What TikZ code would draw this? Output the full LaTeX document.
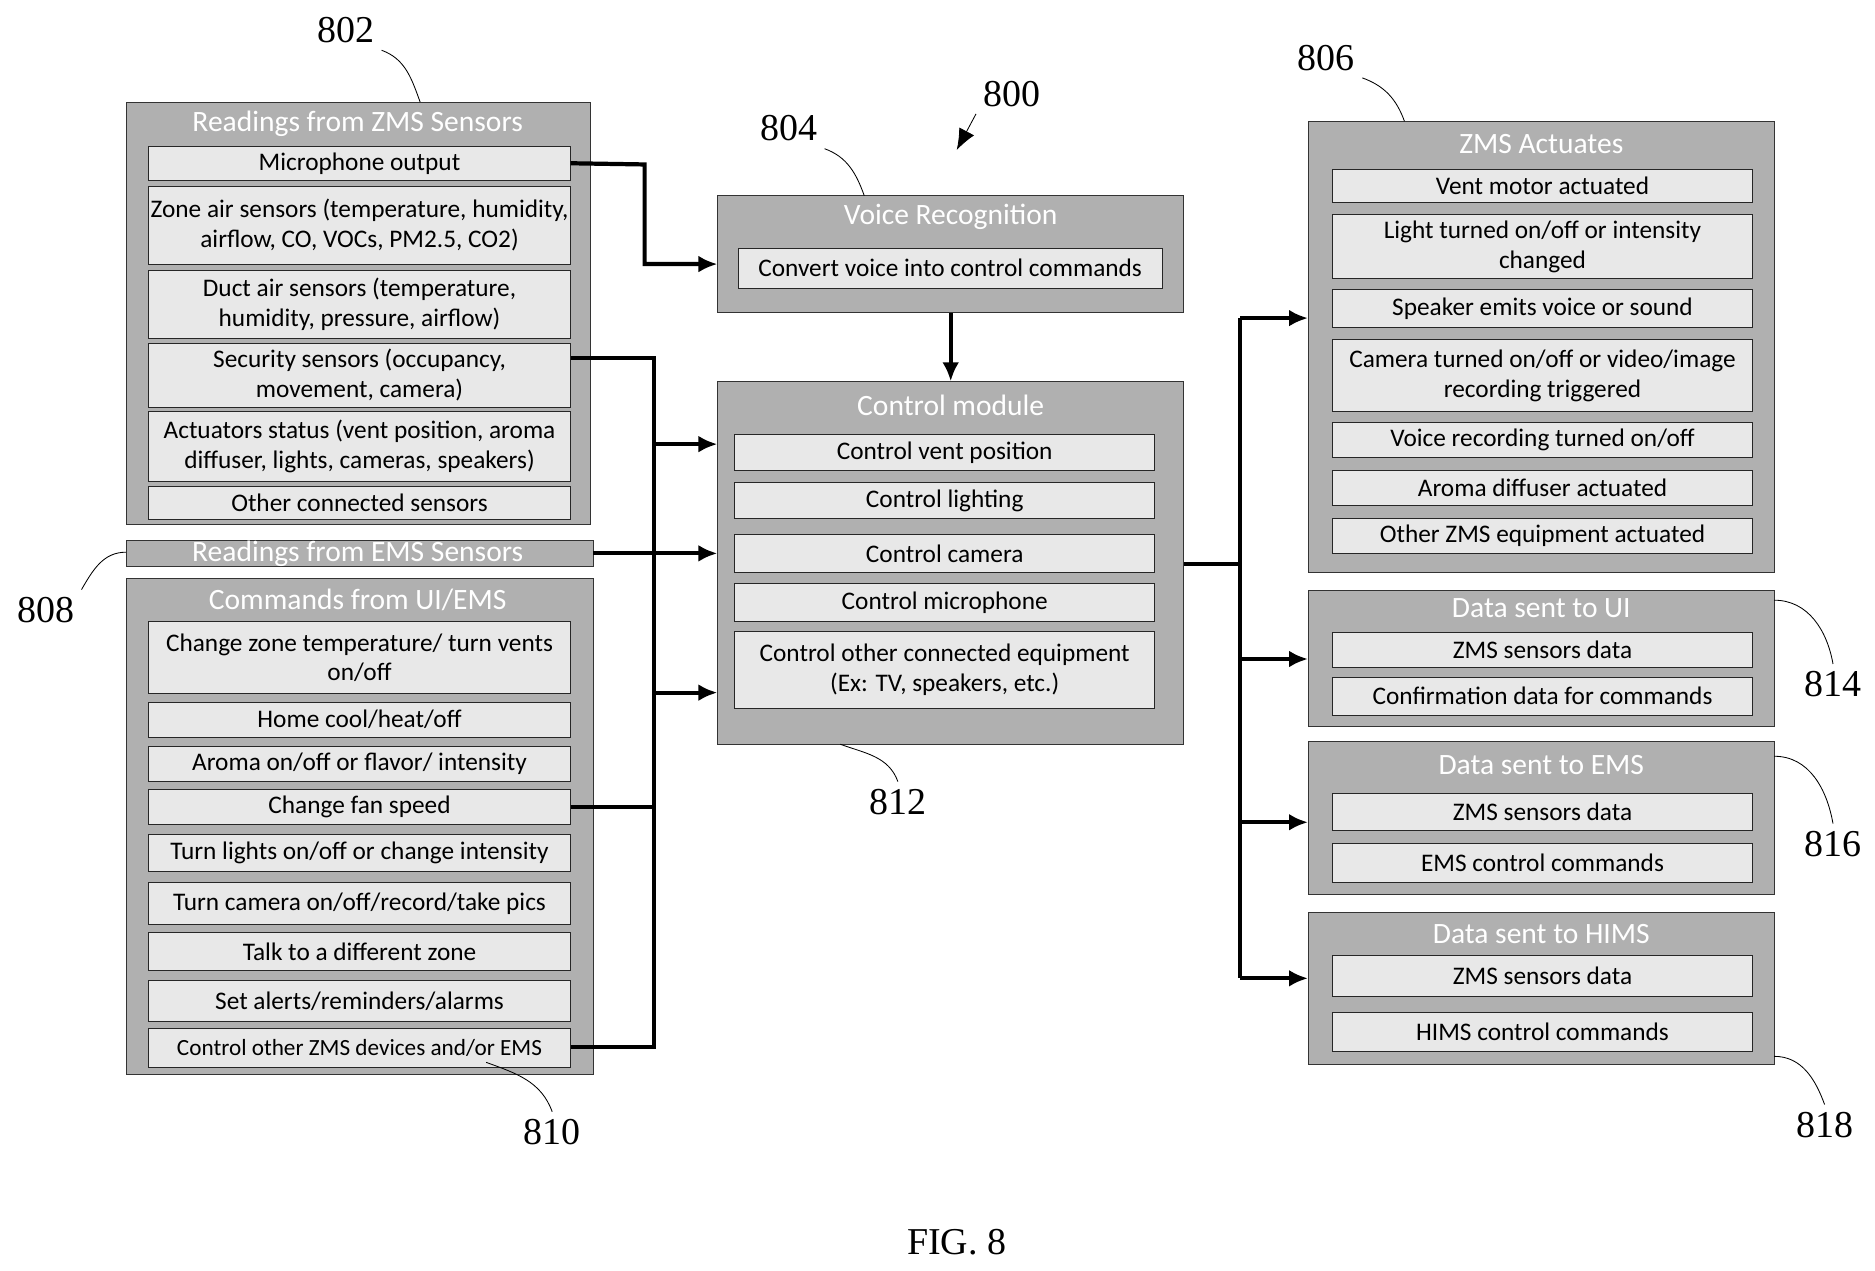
\documentclass[tikz,border=0pt]{standalone}
\usepackage{fontspec}
\setmainfont{Liberation Serif}
\newfontfamily\boxfont{Carlito}
\usetikzlibrary{fit,arrows.meta}
\tikzset{
  outer/.style={draw=gray!40!black,fill=gray!62,inner sep=0pt},
  item/.style={draw=gray!30!black,fill=gray!18,inner sep=0pt},
  head/.style={text=white,font=\boxfont\fontsize{14}{16}\selectfont},
  txt/.style={font=\boxfont\fontsize{12}{14}\selectfont,align=center},
  num/.style={font=\fontsize{18}{20}\selectfont},
  flow/.style={line width=2pt,-{Latex[length=9pt,width=8pt]}},
  bus/.style={line width=2pt},
}
% box from corner to corner with centred text
\newcommand{\zbox}[5][item]{\node[#1,fit={(#2)(#3)}] (#4) {}; \node[txt] at (#4.center) {#5}}

\begin{document}
\begin{tikzpicture}[x=0.02cm,y=-0.02cm]
\useasboundingbox (0,0) rectangle (1562,1058);
% left: ZMS sensors
\zbox[outer]{105,85}{492,437}{zms}{};
\node[head] at (298,103) {Readings from ZMS Sensors};
\zbox{124,122}{475,150}{mic}{Microphone output};
\zbox{124,155}{475,220}{zair}{Zone air sensors (temperature, humidity,\\airflow, CO, VOCs, PM2.5, CO2)};
\zbox{124,225}{475,282}{duct}{Duct air sensors (temperature,\\humidity, pressure, airflow)};
\zbox{124,286}{475,339}{secu}{Security sensors (occupancy,\\movement, camera)};
\zbox{124,343}{475,401}{actst}{Actuators status (vent position, aroma\\diffuser, lights, cameras, speakers)};
\zbox{124,405}{475,433}{oths}{Other connected sensors};
% EMS sensors
\zbox[outer]{105,450}{494,472}{ems}{};
\node[head] at (298,461) {Readings from EMS Sensors};
% commands
\zbox[outer]{105,482}{494,895}{cmd}{};
\node[head] at (298,500) {Commands from UI/EMS};
\zbox{124,518}{475,578}{ctemp}{Change zone temperature/ turn vents\\on/off};
\zbox{124,585}{475,614}{chome}{Home cool/heat/off};
\zbox{124,622}{475,651}{caroma}{Aroma on/off or flavor/ intensity};
\zbox{124,658}{475,687}{cfan}{Change fan speed};
\zbox{124,695}{475,726}{clight}{Turn lights on/off or change intensity};
\zbox{124,735}{475,770}{ccam}{Turn camera on/off/record/take pics};
\zbox{124,777}{475,808}{ctalk}{Talk to a different zone};
\zbox{124,817}{475,851}{calert}{Set alerts/reminders/alarms};
\zbox{124,857}{475,889}{cother}{\fontsize{11}{13}\selectfont Control other ZMS devices and/or EMS};
% voice recognition
\zbox[outer]{598,163}{986,260}{voice}{};
\node[head] at (792,181) {Voice Recognition};
\zbox{615,207}{968,240}{conv}{Convert voice into control commands};
% control module
\zbox[outer]{598,318}{986,620}{ctrl}{};
\node[head] at (792,338) {Control module};
\zbox{612,362}{962,392}{cvent}{Control vent position};
\zbox{612,402}{962,432}{clig}{Control lighting};
\zbox{612,445}{962,477}{ccamr}{Control camera};
\zbox{612,486}{962,518}{cmic}{Control microphone};
\zbox{612,526}{962,590}{coth}{Control other connected equipment\\(Ex: TV, speakers, etc.)};
% ZMS actuates
\zbox[outer]{1090,101}{1478,477}{act}{};
\node[head] at (1284,120) {ZMS Actuates};
\zbox{1110,141}{1460,169}{avent}{Vent motor actuated};
\zbox{1110,179}{1460,232}{alight}{Light turned on/off or intensity\\changed};
\zbox{1110,241}{1460,273}{aspk}{Speaker emits voice or sound};
\zbox{1110,283}{1460,343}{acam}{Camera turned on/off or video/image\\recording triggered};
\zbox{1110,352}{1460,381}{avoice}{Voice recording turned on/off};
\zbox{1110,392}{1460,421}{aaroma}{Aroma diffuser actuated};
\zbox{1110,432}{1460,461}{aother}{Other ZMS equipment actuated};
% data out
\zbox[outer]{1090,492}{1478,605}{dui}{};
\node[head] at (1284,507) {Data sent to UI};
\zbox{1110,527}{1460,556}{duia}{ZMS sensors data};
\zbox{1110,564}{1460,596}{duib}{Confirmation data for commands};
\zbox[outer]{1090,618}{1478,745}{dems}{};
\node[head] at (1284,637) {Data sent to EMS};
\zbox{1110,661}{1460,692}{demsa}{ZMS sensors data};
\zbox{1110,703}{1460,735}{demsb}{EMS control commands};
\zbox[outer]{1090,760}{1478,887}{dhims}{};
\node[head] at (1284,778) {Data sent to HIMS};
\zbox{1110,796}{1460,830}{dhimsa}{ZMS sensors data};
\zbox{1110,843}{1460,876}{dhimsb}{HIMS control commands};

% connectors
\coordinate (b1) at (537,137);
\coordinate (b2) at (537,220);
\draw[flow] (mic.east) -- (b1) -- (b2) -- (voice.west |- b2);
\draw[flow] (voice.south) -- (ctrl.north);
\coordinate (lt) at (545,298);
\coordinate (lb) at (545,872);
\draw[bus] (secu.east |- lt) -- (lt) -- (lb) -- (cother.east |- lb);
\draw[bus] (cfan.east) -- (cfan.east -| lt);
\draw[flow] (545,370) -- (ctrl.west |- 0,370);
\draw[flow] (545,577) -- (ctrl.west |- 0,577);
\draw[flow] (ems.east) -- (ctrl.west |- ems.east);
\coordinate (rb) at (1033,470);
\draw[bus] (ctrl.east |- rb) -- (rb);
\draw[bus] (1033,265) -- (1033,815);
\foreach \y/\t in {265/act,549/dui,685/dems,815/dhims}
  \draw[flow] (1033,\y) -- (\t.west |- 0,\y);

% reference numbers
\node[num] (n802) at (288,25) {802};
\draw (n802.south east) to[out=-20,in=110] (350,85);
\node[num] (n804) at (657,107) {804};
\draw (n804.south east) to[out=-20,in=110] (720,163);
\node[num] (n800) at (843,78) {800};
\draw[-{Latex[length=10pt,width=8pt]}] (n800.south west) -- (797,125);
\node[num] (n806) at (1105,48) {806};
\draw (n806.south east) to[out=-20,in=110] (1170,101);
\node[num] (n808) at (38,508) {808};
\draw (n808.north east) to[out=60,in=180] (105,460);
\node[num] (n810) at (460,943) {810};
\draw (n810.north) to[out=110,in=-20] (405,885);
\node[num] (n812) at (748,668) {812};
\draw (n812.north) to[out=110,in=-20] (700,620);
\node[num] (n814) at (1527,570) {814};
\draw (n814.north) to[out=100,in=0] (1478,500);
\node[num] (n816) at (1527,703) {816};
\draw (n816.north) to[out=100,in=0] (1478,630);
\node[num] (n818) at (1520,937) {818};
\draw (n818.north) to[out=110,in=0] (1478,880);
\node[font=\fontsize{18}{20}\selectfont] (fig) at (797,1035) {FIG. 8};
\end{tikzpicture}
\end{document}
